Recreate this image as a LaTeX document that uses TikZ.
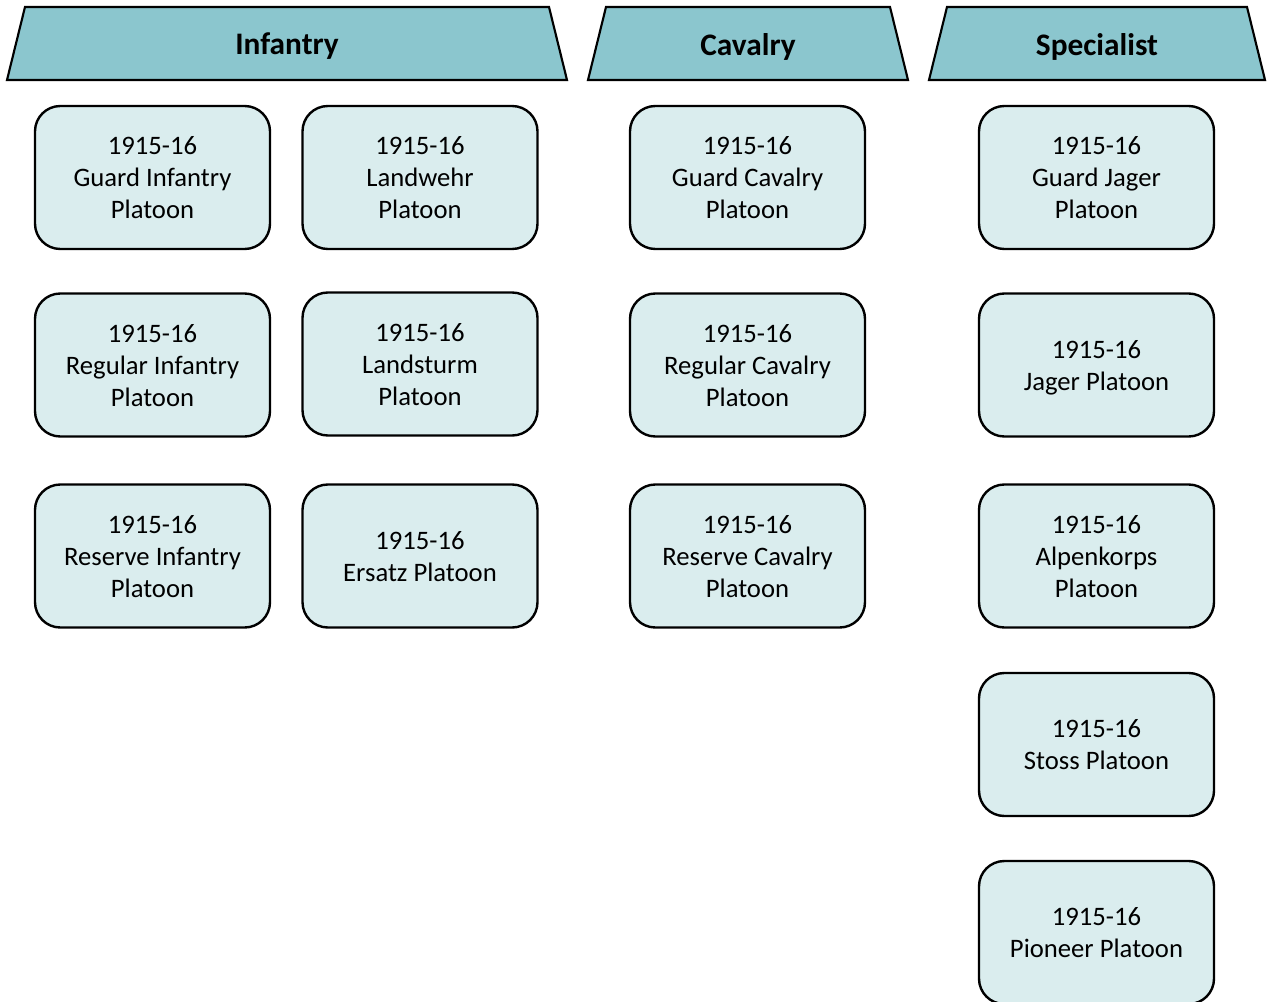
\documentclass[tikz,border=0pt]{standalone}
\usepackage{fontspec}
\setmainfont{Carlito}
\definecolor{headfill}{HTML}{8BC6CE}
\definecolor{boxfill}{HTML}{DAEDEE}
\begin{document}
\begin{tikzpicture}[x=0.75pt,y=-0.75pt,
  headshape/.style={draw=black, line width=1.6pt, fill=headfill, line join=miter},
  headtext/.style={font=\fontsize{23.5}{28}\selectfont\bfseries, inner sep=0pt},
  unit/.style={shape=rectangle, rounded corners=19pt, draw=black, line width=1.8pt,
    fill=boxfill, minimum width=176.25pt, minimum height=107.25pt,
    align=center, font=\fontsize{20}{24}\selectfont, inner sep=0pt,
    text depth=-3pt}]
\useasboundingbox (0,0) rectangle (1270,1002);
\clip (0,0) rectangle (1270,1002);

% column headers: trapezoids with their titles
\draw[headshape] (7,80) -- (25,7) -- (549,7) -- (567,80) -- cycle;
\node[headtext] (hinf) at (287,46.5) {Infantry};
\draw[headshape] (588,80) -- (606,7) -- (890,7) -- (908,80) -- cycle;
\node[headtext] (hcav) at (748,46.5) {Cavalry};
\draw[headshape] (929,80) -- (947,7) -- (1247,7) -- (1265,80) -- cycle;
\node[headtext] (hspe) at (1097,46.5) {Specialist};

% infantry units
\node[unit] (ginf) at (152.5,177.5) {1915-16\\Guard Infantry\\Platoon};
\node[unit] (lw)   at (420,177.5) {1915-16\\Landwehr\\Platoon};
\node[unit] (rinf) at (152.5,365) {1915-16\\Regular Infantry\\Platoon};
\node[unit] (ls)   at (420,364) {1915-16\\Landsturm\\Platoon};
\node[unit] (resi) at (152.5,556) {1915-16\\Reserve Infantry\\Platoon};
\node[unit] (ers)  at (420,556) {1915-16\\Ersatz Platoon};

% cavalry units
\node[unit] (gcav) at (747.5,177.5) {1915-16\\Guard Cavalry\\Platoon};
\node[unit] (rcav) at (747.5,365) {1915-16\\Regular Cavalry\\Platoon};
\node[unit] (resc) at (747.5,556) {1915-16\\Reserve Cavalry\\Platoon};

% specialist units
\node[unit] (gjag) at (1096.5,177.5) {1915-16\\Guard Jager\\Platoon};
\node[unit] (jag)  at (1096.5,365) {1915-16\\Jager Platoon};
\node[unit] (alp)  at (1096.5,556) {1915-16\\Alpenkorps\\Platoon};
\node[unit] (sto)  at (1096.5,744.5) {1915-16\\Stoss Platoon};
\node[unit] (pio)  at (1096.5,932.5) {1915-16\\Pioneer Platoon};
\end{tikzpicture}
\end{document}
